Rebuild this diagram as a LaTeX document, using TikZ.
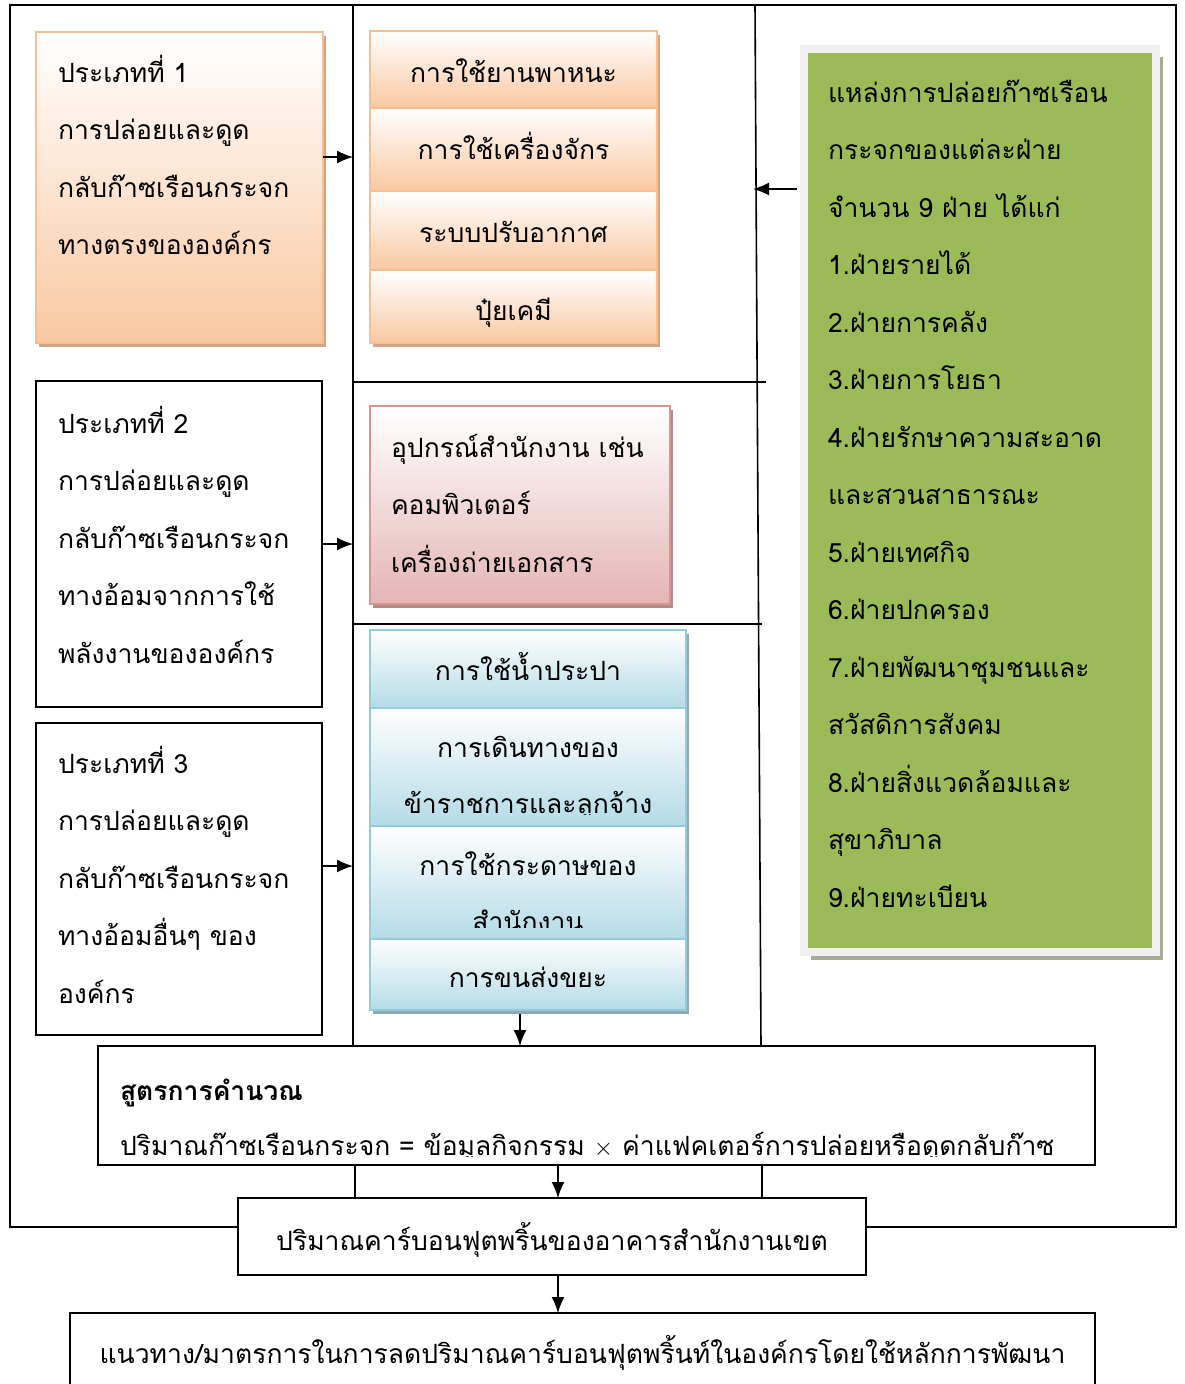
\documentclass[tikz,border=0pt]{standalone}
\usepackage{fontspec}
\newfontfamily\thaifont[Script=Thai]{Loma}
\usetikzlibrary{arrows.meta,positioning,shadows,calc}

\definecolor{orangeline}{HTML}{F9BE8F}
\definecolor{orangefill}{HTML}{F9C8A1}
\definecolor{orangeshadow}{HTML}{CFA585}
\definecolor{pinkline}{HTML}{D99594}
\definecolor{pinkfill}{HTML}{E4B5B4}
\definecolor{pinkshadow}{HTML}{B08C8B}
\definecolor{blueline}{HTML}{92CDDC}
\definecolor{bluefill}{HTML}{B4DBE6}
\definecolor{blueshadow}{HTML}{90A9B0}
\definecolor{greenfill}{HTML}{9BBB59}
\definecolor{greenframe}{HTML}{F0F0F0}
\definecolor{greenshadow}{HTML}{A8AD92}

% first line strut: the node top lies 40pt over the first baseline
\newcommand{\linetop}{\rule{0pt}{40pt}}

\tikzset{
  thaitext/.style={
    font=\thaifont\fontsize{26.5}{57.5}\selectfont,
    inner sep=0pt, outer sep=0pt, align=left
  },
  plainbox/.style={
    rectangle, draw=black, line width=1.6pt, fill=white,
    inner sep=0pt, outer sep=0pt
  },
  orangebox/.style={
    rectangle, draw=orangeline, line width=2.5pt,
    top color=white, bottom color=orangefill,
    inner sep=0pt, outer sep=0pt,
    drop shadow={shadow xshift=3pt, shadow yshift=-4pt, fill=orangeshadow, opacity=1}
  },
  pinkbox/.style={
    rectangle, draw=pinkline, line width=2.5pt,
    top color=white, bottom color=pinkfill,
    inner sep=0pt, outer sep=0pt,
    drop shadow={shadow xshift=3pt, shadow yshift=-4pt, fill=pinkshadow, opacity=1}
  },
  bluebox/.style={
    rectangle, draw=blueline, line width=2.5pt,
    top color=white, bottom color=bluefill,
    inner sep=0pt, outer sep=0pt,
    drop shadow={shadow xshift=3pt, shadow yshift=-4pt, fill=blueshadow, opacity=1}
  },
  greenbox/.style={
    rectangle, draw=greenframe, line width=8pt, fill=greenfill,
    inner sep=0pt, outer sep=0pt,
    drop shadow={shadow xshift=7pt, shadow yshift=-8pt, fill=greenshadow, opacity=1}
  },
}

\begin{document}
\begin{tikzpicture}[->, x=1pt, y=-1pt, line width=1.6pt, >={Latex[length=16pt,width=13pt]}]

\useasboundingbox[-] (0,0) rectangle (1184,1384);
\clip (0,0) rectangle (1184,1384);

\coordinate (FRAMENW) at (10,5);
\coordinate (FRAMESE) at (1176,1227);
\coordinate (DIVL) at (353,5);
\coordinate (DIVR) at (755,5);

% bottom boxes first, the frame lines run into them
\node[plainbox, minimum width=997pt, minimum height=119pt, anchor=north west] (FORMULA) at (98,1046) {};
\node[plainbox, minimum width=628pt, minimum height=77pt, anchor=north west] (CARBON) at (238,1198) {};
\node[plainbox, minimum width=1025pt, minimum height=100pt, anchor=north west] (GOAL) at (70,1313) {};

\draw [-] (CARBON.west |- FRAMESE) -| (FRAMENW) -| (FRAMESE) -- (CARBON.east |- FRAMESE);
\draw [-] (DIVL) -- (DIVL |- FORMULA.north);
\draw [-] (DIVR) -- (761,1046);
\draw [-] (353,382) -- (766,382);
\draw [-] (353,624) -- (762,624);
\draw [-] (FORMULA.south -| 355,0) -- (CARBON.north -| 355,0);
\draw [-] (FORMULA.south -| 762,0) -- (CARBON.north -| 762,0);

% type 1 / 2 / 3
\node[orangebox, minimum width=287pt, minimum height=311pt, anchor=north west] (TYPE1) at (36,32) {};
\node[thaitext, below right=10pt and 22pt of TYPE1.north west, anchor=north west] (TYPE1TXT)
  {\linetop ประเภทที่ 1\\การปล่อยและดูด\\กลับก๊าซเรือนกระจก\\ทางตรงขององค์กร};

\node[plainbox, minimum width=286pt, minimum height=326pt, anchor=north west] (TYPE2) at (36,381) {};
\node[thaitext, below right=12pt and 22pt of TYPE2.north west, anchor=north west] (TYPE2TXT)
  {\linetop ประเภทที่ 2\\การปล่อยและดูด\\กลับก๊าซเรือนกระจก\\ทางอ้อมจากการใช้\\พลังงานขององค์กร};

\node[plainbox, minimum width=286pt, minimum height=312pt, anchor=north west] (TYPE3) at (36,723) {};
\node[thaitext, below right=10pt and 22pt of TYPE3.north west, anchor=north west] (TYPE3TXT)
  {\linetop ประเภทที่ 3\\การปล่อยและดูด\\กลับก๊าซเรือนกระจก\\ทางอ้อมอื่นๆ ของ\\องค์กร};

% direct sources
\node[orangebox, minimum width=287pt, minimum height=77pt, anchor=north west] (USE1) at (370,31) {};
\node[orangebox, minimum width=287pt, minimum height=83pt, below=0pt of USE1] (USE2) {};
\node[orangebox, minimum width=287pt, minimum height=79pt, below=0pt of USE2] (USE3) {};
\node[orangebox, minimum width=287pt, minimum height=73pt, below=0pt of USE3] (USE4) {};
\node[thaitext, below=51pt of USE1.north, anchor=base] (USE1TXT) {การใช้ยานพาหนะ};
\node[thaitext, below=51pt of USE2.north, anchor=base] (USE2TXT) {การใช้เครื่องจักร};
\node[thaitext, below=51pt of USE3.north, anchor=base] (USE3TXT) {ระบบปรับอากาศ};
\node[thaitext, below=50pt of USE4.north, anchor=base] (USE4TXT) {ปุ๋ยเคมี};

% energy
\node[pinkbox, minimum width=300pt, minimum height=198pt, anchor=north west] (ENERGY) at (370,406) {};
\node[thaitext, below right=11pt and 21pt of ENERGY.north west, anchor=north west] (ENERGYTXT)
  {\linetop อุปกรณ์สำนักงาน เช่น\\คอมพิวเตอร์\\เครื่องถ่ายเอกสาร};

% other indirect sources
\node[bluebox, minimum width=316pt, minimum height=78pt, anchor=north west] (OTHER1) at (370,630) {};
\node[bluebox, minimum width=316pt, minimum height=118pt, below=0pt of OTHER1] (OTHER2) {};
\node[bluebox, minimum width=316pt, minimum height=113pt, below=0pt of OTHER2] (OTHER3) {};
\node[bluebox, minimum width=316pt, minimum height=71pt, below=0pt of OTHER3] (OTHER4) {};
\node[thaitext, below=50pt of OTHER1.north, anchor=base] (OTHER1TXT) {การใช้น้ำประปา};
\begin{scope}
\clip (OTHER2.north west) rectangle ([yshift=12pt]OTHER2.south east);
\node[thaitext, below=9pt of OTHER2.north, anchor=north, align=center] (OTHER2TXT)
  {\linetop การเดินทางของ\\[-1.5pt]ข้าราชการและลูกจ้าง};
\end{scope}
\begin{scope}
\clip (OTHER3.north west) rectangle ([yshift=12pt]OTHER3.south east);
\node[thaitext, below=9pt of OTHER3.north, anchor=north, align=center] (OTHER3TXT)
  {\linetop การใช้กระดาษของ\\[-1pt]สำนักงาน};
\end{scope}
\node[thaitext, below=48pt of OTHER4.north, anchor=base] (OTHER4TXT) {การขนส่งขยะ};

% sources by division
\node[greenbox, minimum width=352pt, minimum height=903pt, anchor=north west] (SOURCE) at (804,49) {};
\node[thaitext, below right=13pt and 24pt of SOURCE.north west, anchor=north west] (SOURCETXT)
  {\linetop แหล่งการปล่อยก๊าซเรือน\\กระจกของแต่ละฝ่าย\\จำนวน 9 ฝ่าย ได้แก่\\1.ฝ่ายรายได้\\2.ฝ่ายการคลัง\\3.ฝ่ายการโยธา\\4.ฝ่ายรักษาความสะอาด\\และสวนสาธารณะ\\5.ฝ่ายเทศกิจ\\6.ฝ่ายปกครอง\\7.ฝ่ายพัฒนาชุมชนและ\\สวัสดิการสังคม\\8.ฝ่ายสิ่งแวดล้อมและ\\สุขาภิบาล\\9.ฝ่ายทะเบียน};

% formula and results
\begin{scope}
\clip (FORMULA.north west) rectangle ([yshift=9pt]FORMULA.south east);
\node[thaitext, below right=14pt and 22pt of FORMULA.north west, anchor=north west] (FORMULATXT)
  {\linetop\textbf{สูตรการคำนวณ}\\[-2.5pt]ปริมาณก๊าซเรือนกระจก = ข้อมูลกิจกรรม $\times$ ค่าแฟคเตอร์การปล่อยหรือดูดกลับก๊าซ};
\end{scope}
\node[thaitext, below=52pt of CARBON.north, anchor=base] (CARBONTXT) {ปริมาณคาร์บอนฟุตพริ้นของอาคารสำนักงานเขต};
\node[thaitext, below=50pt of GOAL.north, anchor=base] (GOALTXT) {แนวทาง/มาตรการในการลดปริมาณคาร์บอนฟุตพริ้นท์ในองค์กรโดยใช้หลักการพัฒนา};

% arrows
\draw [->] (TYPE1.east |- 0,157) -- (DIVL |- 0,157);
\draw [->] (TYPE2.east) -- (TYPE2.east -| DIVL);
\draw [->] (TYPE3.east |- 0,866) -- (DIVL |- 0,866);
\draw [->] ([xshift=-7pt]SOURCE.west |- 0,189) -- (753,189);
\draw [->] (OTHER4.south -| 520,0) ++(0,4) -- (FORMULA.north -| 520,0);
\draw [->] (FORMULA.south -| 558,0) -- (CARBON.north -| 558,0);
\draw [->] (CARBON.south -| 558,0) -- (GOAL.north -| 558,0);

\end{tikzpicture}
\end{document}
